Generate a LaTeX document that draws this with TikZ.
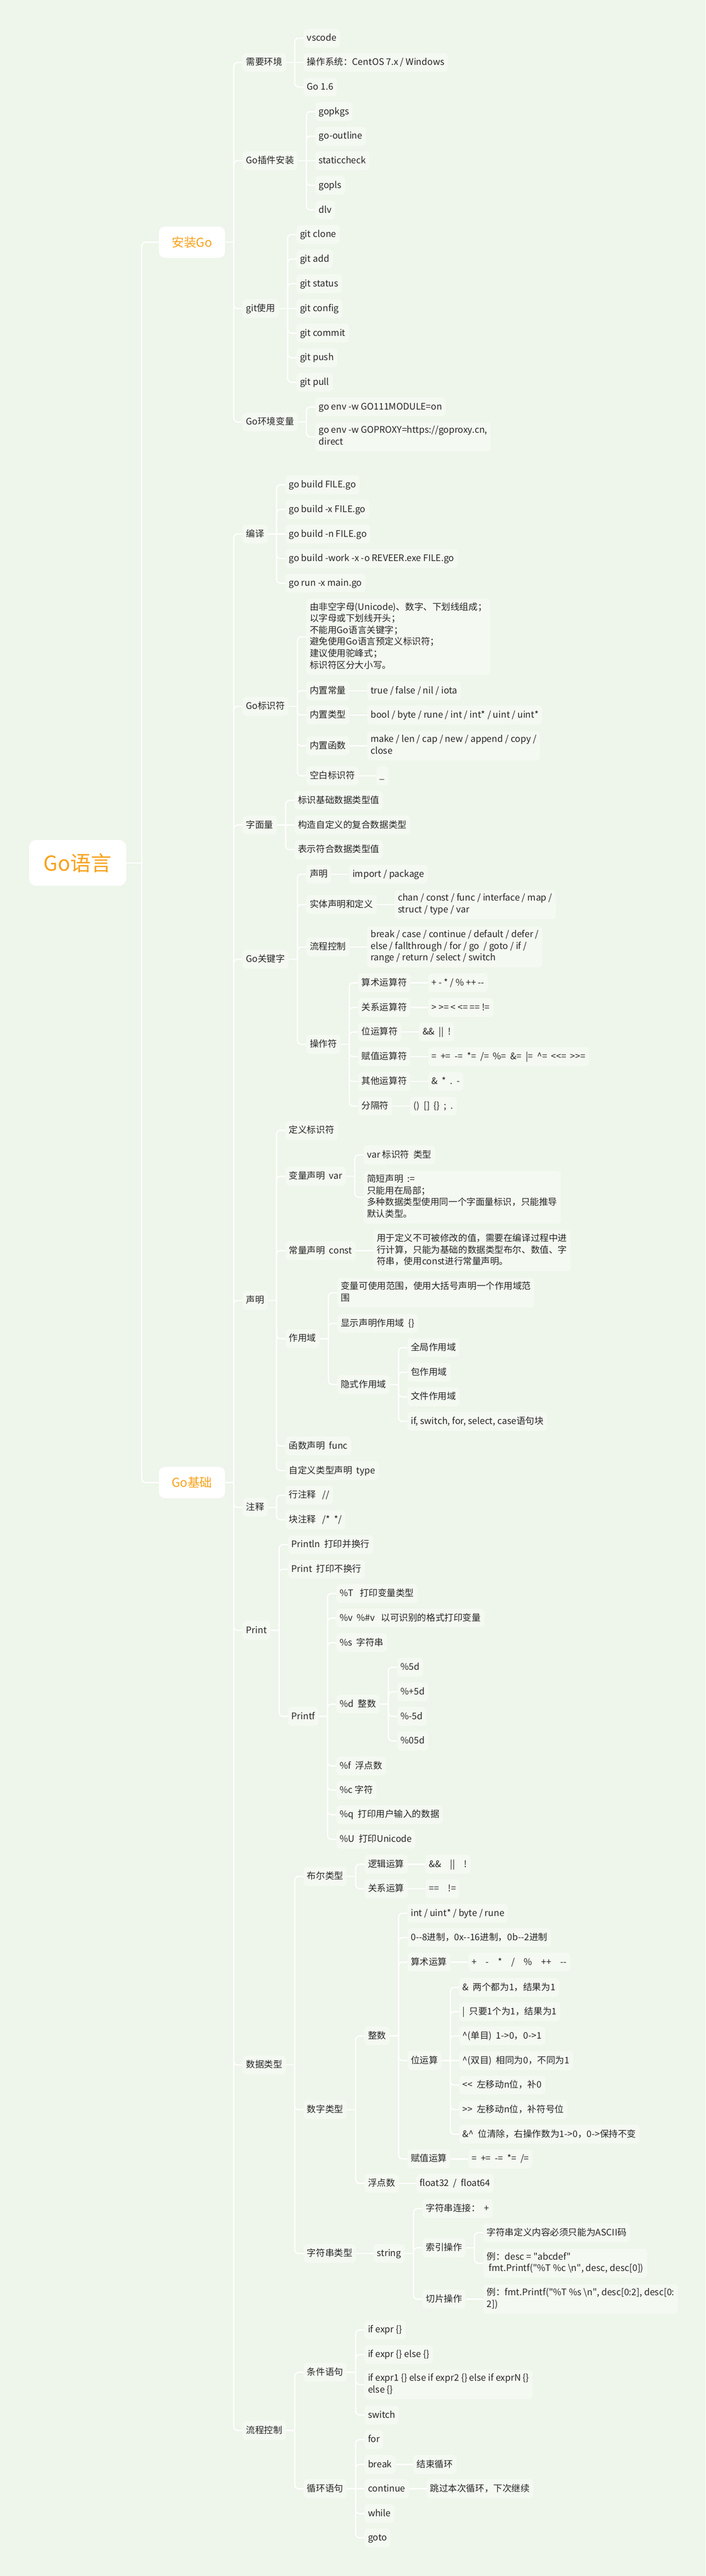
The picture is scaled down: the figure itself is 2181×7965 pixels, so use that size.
\documentclass[tikz,border=0pt]{standalone}
\usepackage{fontspec}
\setmainfont{Noto Sans CJK SC}
\usetikzlibrary{positioning}

\definecolor{bgcol}{HTML}{EEF5EA}
\definecolor{boxcol}{HTML}{F4F9F1}
\definecolor{orangecol}{HTML}{F7A21B}
\definecolor{inkcol}{HTML}{262626}

\newcommand{\rowstrut}{\rule[-9pt]{0pt}{36pt}}
\newcommand{\dashdash}{-\kern0pt-}
\newcommand{\ltlt}{<\kern0pt<}
\newcommand{\gtgt}{>\kern0pt>}
\newcommand{\dq}{\XeTeXglyph\XeTeXcharglyph"22\relax}

\begin{document}
\begin{tikzpicture}[x=1pt,y=-1pt,
    box/.style={fill=boxcol,rounded corners=12pt,inner xsep=11pt,inner ysep=11.5pt,
      align=left,text=inkcol,font=\fontsize{28}{36}\selectfont,
      execute at begin node=\rowstrut,execute at end node=\rowstrut},
    kid/.style={box,anchor=west,xshift=27pt},
    topbox/.style={fill=white,rounded corners=18pt,text=orangecol,
      font=\fontsize{38}{46}\selectfont,minimum width=204pt,minimum height=97pt,
      anchor=west,xshift=53pt},
    rootbox/.style={fill=white,rounded corners=22pt,text=orangecol,
      font=\fontsize{64}{72}\selectfont,minimum width=300pt,minimum height=142pt},
    conn/.style={draw=white,line width=4pt,rounded corners=12pt}]
  \useasboundingbox (0,0) rectangle (2181,7965);
  \fill[bgcol] (0,0) rectangle (2181,7965);

  \node[rootbox] (golang) at (240,2668) {Go语言};
  \coordinate (golangt) at ([xshift=48pt]golang.east);
  \node[topbox] (install) at (golangt |- 0,749) {安装Go};
  \node[topbox] (basics) at (golangt |- 0,4584) {Go基础};

  % 安装Go
  \coordinate (installt) at ([xshift=27pt]install.east);
  \node[kid] (env) at (installt |- 0,193) {需要环境};
  \node[kid] (plugin) at (installt |- 0,497) {Go插件安装};
  \node[kid] (git) at (installt |- 0,954) {git使用};
  \node[kid] (goenv) at (installt |- 0,1305) {Go环境变量};

  \coordinate (envt) at ([xshift=27pt]env.east);
  \node[kid] (vscode) at (envt |- 0,118) {vscode};
  \node[kid] (os) at (envt |- 0,193) {操作系统：CentOS 7.x / Windows};
  \node[kid] (go16) at (envt |- 0,269) {Go 1.6};

  \coordinate (plugint) at ([xshift=27pt]plugin.east);
  \node[kid] (gopkgs) at (plugint |- 0,345) {gopkgs};
  \node[kid] (outline) at (plugint |- 0,421) {go-outline};
  \node[kid] (static) at (plugint |- 0,497) {staticcheck};
  \node[kid] (gopls) at (plugint |- 0,573) {gopls};
  \node[kid] (dlv) at (plugint |- 0,649) {dlv};

  \coordinate (gitt) at ([xshift=27pt]git.east);
  \node[kid] (clone) at (gitt |- 0,725) {git clone};
  \node[kid] (add) at (gitt |- 0,801) {git add};
  \node[kid] (status) at (gitt |- 0,877) {git status};
  \node[kid] (config) at (gitt |- 0,954) {git config};
  \node[kid] (commit) at (gitt |- 0,1030) {git commit};
  \node[kid] (push) at (gitt |- 0,1106) {git push};
  \node[kid] (pull) at (gitt |- 0,1182) {git pull};

  \coordinate (goenvt) at ([xshift=27pt]goenv.east);
  \node[kid] (mod) at (goenvt |- 0,1258) {go env -w GO111MODULE=on};
  \node[kid] (proxy) at (goenvt |- 0,1351) {go env -w GOPROXY=https://goproxy.cn,\\direct};

  % Go基础
  \coordinate (basicst) at ([xshift=27pt]basics.east);
  \node[kid] (build) at (basicst |- 0,1651) {编译};
  \node[kid] (ident) at (basicst |- 0,2184) {Go标识符};
  \node[kid] (literal) at (basicst |- 0,2551) {字面量};
  \node[kid] (keyword) at (basicst |- 0,2966) {Go关键字};
  \node[kid] (declare) at (basicst |- 0,4021) {声明};
  \node[kid] (comment) at (basicst |- 0,4661) {注释};
  \node[kid] (print) at (basicst |- 0,5041) {Print};
  \node[kid] (dtype) at (basicst |- 0,6385) {数据类型};
  \node[kid] (flow) at (basicst |- 0,7515) {流程控制};

  \coordinate (buildt) at ([xshift=27pt]build.east);
  \node[kid] (b1) at (buildt |- 0,1499) {go build FILE.go};
  \node[kid] (b2) at (buildt |- 0,1575) {go build -x FILE.go};
  \node[kid] (b3) at (buildt |- 0,1651) {go build -n FILE.go};
  \node[kid] (b4) at (buildt |- 0,1727) {go build -work -x -o REVEER.exe FILE.go};
  \node[kid] (b5) at (buildt |- 0,1803) {go run -x main.go};

  \coordinate (identt) at ([xshift=27pt]ident.east);
  \node[kid] (rule) at (identt |- 0,1969) {由非空字母(Unicode)、数字、下划线组成；\\以字母或下划线开头；\\不能用Go语言关键字；\\避免使用Go语言预定义标识符；\\建议使用驼峰式；\\标识符区分大小写。};
  \node[kid] (bconst) at (identt |- 0,2136) {内置常量};
  \node[box,right=54pt of bconst] (bconstv) {true / false / nil / iota};
  \node[kid] (btype) at (identt |- 0,2211) {内置类型};
  \node[box,right=54pt of btype] (btypev) {bool / byte / rune / int / int* / uint / uint*};
  \node[kid] (bfunc) at (identt |- 0,2306) {内置函数};
  \node[box,right=54pt of bfunc] (bfuncv) {make / len / cap / new / append / copy /\\close};
  \node[kid] (blank) at (identt |- 0,2399) {空白标识符};
  \node[box,right=54pt of blank] (blankv) {\_};

  \coordinate (literalt) at ([xshift=27pt]literal.east);
  \node[kid] (lit1) at (literalt |- 0,2475) {标识基础数据类型值};
  \node[kid] (lit2) at (literalt |- 0,2551) {构造自定义的复合数据类型};
  \node[kid] (lit3) at (literalt |- 0,2627) {表示符合数据类型值};

  \coordinate (keywordt) at ([xshift=27pt]keyword.east);
  \node[kid] (kdecl) at (keywordt |- 0,2703) {声明};
  \node[box,right=54pt of kdecl] (kdeclv) {import / package};
  \node[kid] (kentity) at (keywordt |- 0,2797) {实体声明和定义};
  \node[box,right=54pt of kentity] (kentityv) {chan / const / func / interface / map /\\struct / type / var};
  \node[kid] (kflow) at (keywordt |- 0,2928) {流程控制};
  \node[box,right=54pt of kflow] (kflowv) {break / case / continue / default / defer /\\else / fallthrough / for / go~~/ goto / if /\\range / return / select / switch};
  \node[kid] (koper) at (keywordt |- 0,3229) {操作符};

  \coordinate (kopert) at ([xshift=27pt]koper.east);
  \node[kid] (arith) at (kopert |- 0,3039) {算术运算符};
  \node[box,right=54pt of arith] (arithv) {+ - * / \% ++ \dashdash};
  \node[kid] (rel) at (kopert |- 0,3115) {关系运算符};
  \node[box,right=54pt of rel] (relv) {> >= < <= == !=};
  \node[kid] (bitop) at (kopert |- 0,3191) {位运算符};
  \node[box,right=54pt of bitop] (bitopv) {\&\&~~||~~!};
  \node[kid] (assign) at (kopert |- 0,3267) {赋值运算符};
  \node[box,right=54pt of assign] (assignv) {=~~+=~~-=~~*=~~/=~~\%=~~\&=~~|=~~\textasciicircum=~~\ltlt=~~\gtgt=};
  \node[kid] (other) at (kopert |- 0,3344) {其他运算符};
  \node[box,right=54pt of other] (otherv) {\&~~*~~.~~-};
  \node[kid] (sep) at (kopert |- 0,3420) {分隔符};
  \node[box,right=54pt of sep] (sepv) {()~~[]~~\{\}~~;~~.};

  \coordinate (declaret) at ([xshift=27pt]declare.east);
  \node[kid] (defid) at (declaret |- 0,3495) {定义标识符};
  \node[kid] (var) at (declaret |- 0,3637) {变量声明~~var};
  \node[kid] (const) at (declaret |- 0,3867) {常量声明~~const};
  \node[box,right=54pt of const] (constv) {用于定义不可被修改的值，需要在编译过程中进\\行计算，只能为基础的数据类型布尔、数值、字\\符串，使用const进行常量声明。};
  \node[kid] (scope) at (declaret |- 0,4139) {作用域};
  \node[kid] (func) at (declaret |- 0,4471) {函数声明~~func};
  \node[kid] (type) at (declaret |- 0,4547) {自定义类型声明~~type};

  \coordinate (vart) at ([xshift=27pt]var.east);
  \node[kid] (var1) at (vart |- 0,3571) {var 标识符~~类型};
  \node[kid] (var2) at (vart |- 0,3702) {简短声明~~:=\\只能用在局部；\\多种数据类型使用同一个字面量标识，只能推导\\默认类型。};

  \coordinate (scopet) at ([xshift=27pt]scope.east);
  \node[kid] (sc1) at (scopet |- 0,3997) {变量可使用范围，使用大括号声明一个作用域范\\围};
  \node[kid] (sc2) at (scopet |- 0,4092) {显示声明作用域~~\{\}};
  \node[kid] (implicit) at (scopet |- 0,4281) {隐式作用域};

  \coordinate (implicitt) at ([xshift=27pt]implicit.east);
  \node[kid] (global) at (implicitt |- 0,4167) {全局作用域};
  \node[kid] (pkgsc) at (implicitt |- 0,4243) {包作用域};
  \node[kid] (filesc) at (implicitt |- 0,4319) {文件作用域};
  \node[kid] (blocksc) at (implicitt |- 0,4395) {if, switch, for, select, case语句块};

  \coordinate (commentt) at ([xshift=27pt]comment.east);
  \node[kid] (cline) at (commentt |- 0,4623) {行注释~~~//};
  \node[kid] (cblock) at (commentt |- 0,4699) {块注释~~~/*~~*/};

  \coordinate (printt) at ([xshift=27pt]print.east);
  \node[kid] (println) at (printt |- 0,4776) {Println~~打印并换行};
  \node[kid] (printnl) at (printt |- 0,4852) {Print~~打印不换行};
  \node[kid] (printf) at (printt |- 0,5307) {Printf};

  \coordinate (printft) at ([xshift=27pt]printf.east);
  \node[kid] (pT) at (printft |- 0,4927) {\%T~~~打印变量类型};
  \node[kid] (pv) at (printft |- 0,5003) {\%v~~\%\#v~~~以可识别的格式打印变量};
  \node[kid] (ps) at (printft |- 0,5079) {\%s~~字符串};
  \node[kid] (pd) at (printft |- 0,5269) {\%d~~整数};
  \node[kid] (pf) at (printft |- 0,5460) {\%f~~浮点数};
  \node[kid] (pc) at (printft |- 0,5535) {\%c 字符};
  \node[kid] (pq) at (printft |- 0,5611) {\%q~~打印用户输入的数据};
  \node[kid] (pU) at (printft |- 0,5687) {\%U~~打印Unicode};

  \coordinate (pdt) at ([xshift=27pt]pd.east);
  \node[kid] (d1) at (pdt |- 0,5155) {\%5d};
  \node[kid] (d2) at (pdt |- 0,5231) {\%+5d};
  \node[kid] (d3) at (pdt |- 0,5307) {\%-5d};
  \node[kid] (d4) at (pdt |- 0,5383) {\%05d};

  \coordinate (dtypet) at ([xshift=27pt]dtype.east);
  \node[kid] (bool) at (dtypet |- 0,5802) {布尔类型};
  \node[kid] (num) at (dtypet |- 0,6523) {数字类型};
  \node[kid] (str) at (dtypet |- 0,6968) {字符串类型};

  \coordinate (boolt) at ([xshift=27pt]bool.east);
  \node[kid] (logic) at (boolt |- 0,5764) {逻辑运算};
  \node[box,right=54pt of logic] (logicv) {\&\&\quad||\quad!};
  \node[kid] (relop) at (boolt |- 0,5840) {关系运算};
  \node[box,right=54pt of relop] (relopv) {==\quad!=};

  \coordinate (numt) at ([xshift=27pt]num.east);
  \node[kid] (int) at (numt |- 0,6295) {整数};
  \node[kid] (float) at (numt |- 0,6751) {浮点数};
  \node[box,right=54pt of float] (floatv) {float32~~/~~float64};

  \coordinate (intt) at ([xshift=27pt]int.east);
  \node[kid] (i1) at (intt |- 0,5916) {int / uint* / byte / rune};
  \node[kid] (i2) at (intt |- 0,5991) {0\dashdash8进制，0x\dashdash16进制，0b\dashdash2进制};
  \node[kid] (iarith) at (intt |- 0,6067) {算术运算};
  \node[box,right=54pt of iarith] (iarithv) {+\quad-\quad*\quad/\quad\%\quad++\quad\dashdash};
  \node[kid] (ibit) at (intt |- 0,6371) {位运算};
  \node[kid] (iassign) at (intt |- 0,6675) {赋值运算};
  \node[box,right=54pt of iassign] (iassignv) {=~~+=~~-=~~*=~~/=};

  \coordinate (ibitt) at ([xshift=27pt]ibit.east);
  \node[kid] (bit1) at (ibitt |- 0,6145) {\&~~两个都为1，结果为1};
  \node[kid] (bit2) at (ibitt |- 0,6220) {|~~只要1个为1，结果为1};
  \node[kid] (bit3) at (ibitt |- 0,6295) {\textasciicircum(单目)~~1->0，0->1};
  \node[kid] (bit4) at (ibitt |- 0,6371) {\textasciicircum(双目)~~相同为0，不同为1};
  \node[kid] (bit5) at (ibitt |- 0,6447) {\ltlt~~左移动n位，补0};
  \node[kid] (bit6) at (ibitt |- 0,6523) {\gtgt~~左移动n位，补符号位};
  \node[kid] (bit7) at (ibitt |- 0,6599) {\&\textasciicircum~~位清除，右操作数为1->0，0->保持不变};

  \node[box,right=54pt of str] (string) {string};
  \coordinate (stringt) at ([xshift=27pt]string.east);
  \node[kid] (concat) at (stringt |- 0,6829) {字符串连接：~~+};
  \node[kid] (index) at (stringt |- 0,6950) {索引操作};
  \node[kid] (slice) at (stringt |- 0,7109) {切片操作};
  \node[box,right=54pt of slice] (slicev) {例：fmt.Printf(\dq\%T \%s \textbackslash n\dq, desc[0:2], desc[0:\\2])};

  \coordinate (indext) at ([xshift=27pt]index.east);
  \node[kid] (idx1) at (indext |- 0,6903) {字符串定义内容必须只能为ASCII码};
  \node[kid] (idx2) at (indext |- 0,6998) {例：desc = \dq abcdef\dq\\~fmt.Printf(\dq\%T \%c \textbackslash n\dq, desc, desc[0])};

  \coordinate (flowt) at ([xshift=27pt]flow.east);
  \node[kid] (cond) at (flowt |- 0,7335) {条件语句};
  \node[kid] (loop) at (flowt |- 0,7695) {循环语句};

  \coordinate (condt) at ([xshift=27pt]cond.east);
  \node[kid] (if1) at (condt |- 0,7204) {if expr \{\}};
  \node[kid] (if2) at (condt |- 0,7280) {if expr \{\} else \{\}};
  \node[kid] (if3) at (condt |- 0,7373) {if expr1 \{\} else if expr2 \{\} else if exprN \{\}\\else \{\}};
  \node[kid] (sw) at (condt |- 0,7467) {switch};

  \coordinate (loopt) at ([xshift=27pt]loop.east);
  \node[kid] (for) at (loopt |- 0,7543) {for};
  \node[kid] (brk) at (loopt |- 0,7620) {break};
  \node[box,right=54pt of brk] (brkv) {结束循环};
  \node[kid] (cont) at (loopt |- 0,7695) {continue};
  \node[box,right=54pt of cont] (contv) {跳过本次循环，下次继续};
  \node[kid] (while) at (loopt |- 0,7772) {while};
  \node[kid] (goto) at (loopt |- 0,7847) {goto};

  % connectors
  \draw[conn] (golang.east) -- (golangt);
  \foreach \kid in {install,basics} \draw[conn] (golangt) |- (\kid.west);
  \draw[conn] (install.east) -- (installt);
  \foreach \kid in {env,plugin,git,goenv} \draw[conn] (installt) |- (\kid.west);
  \draw[conn] (env.east) -- (os.west);
  \foreach \kid in {vscode,go16} \draw[conn] (envt) |- (\kid.west);
  \draw[conn] (plugin.east) -- (static.west);
  \foreach \kid in {gopkgs,outline,gopls,dlv} \draw[conn] (plugint) |- (\kid.west);
  \draw[conn] (git.east) -- (config.west);
  \foreach \kid in {clone,add,status,commit,push,pull} \draw[conn] (gitt) |- (\kid.west);
  \draw[conn] (goenv.east) -- (goenvt);
  \foreach \kid in {mod,proxy} \draw[conn] (goenvt) |- (\kid.west);

  \draw[conn] (basics.east) -- (basicst);
  \foreach \kid in {build,ident,literal,keyword,declare,comment,print,dtype,flow}
    \draw[conn] (basicst) |- (\kid.west);
  \draw[conn] (build.east) -- (b3.west);
  \foreach \kid in {b1,b2,b4,b5} \draw[conn] (buildt) |- (\kid.west);
  \draw[conn] (ident.east) -- (identt);
  \foreach \kid in {rule,bconst,btype,bfunc,blank} \draw[conn] (identt) |- (\kid.west);
  \draw[conn] (literal.east) -- (lit2.west);
  \foreach \kid in {lit1,lit3} \draw[conn] (literalt) |- (\kid.west);
  \draw[conn] (keyword.east) -- (keywordt);
  \foreach \kid in {kdecl,kentity,kflow,koper} \draw[conn] (keywordt) |- (\kid.west);
  \draw[conn] (koper.east) -- (kopert);
  \foreach \kid in {arith,rel,bitop,assign,other,sep} \draw[conn] (kopert) |- (\kid.west);
  \draw[conn] (declare.east) -- (declaret);
  \foreach \kid in {defid,var,const,scope,func,type} \draw[conn] (declaret) |- (\kid.west);
  \draw[conn] (var.east) -- (vart);
  \foreach \kid in {var1,var2} \draw[conn] (vart) |- (\kid.west);
  \draw[conn] (scope.east) -- (scopet);
  \foreach \kid in {sc1,sc2,implicit} \draw[conn] (scopet) |- (\kid.west);
  \draw[conn] (implicit.east) -- (implicitt);
  \foreach \kid in {global,pkgsc,filesc,blocksc} \draw[conn] (implicitt) |- (\kid.west);
  \draw[conn] (comment.east) -- (commentt);
  \foreach \kid in {cline,cblock} \draw[conn] (commentt) |- (\kid.west);
  \draw[conn] (print.east) -- (printt);
  \foreach \kid in {println,printnl,printf} \draw[conn] (printt) |- (\kid.west);
  \draw[conn] (printf.east) -- (printft);
  \foreach \kid in {pT,pv,ps,pd,pf,pc,pq,pU} \draw[conn] (printft) |- (\kid.west);
  \draw[conn] (pd.east) -- (pdt);
  \foreach \kid in {d1,d2,d3,d4} \draw[conn] (pdt) |- (\kid.west);
  \draw[conn] (dtype.east) -- (dtypet);
  \foreach \kid in {bool,num,str} \draw[conn] (dtypet) |- (\kid.west);
  \draw[conn] (bool.east) -- (boolt);
  \foreach \kid in {logic,relop} \draw[conn] (boolt) |- (\kid.west);
  \draw[conn] (num.east) -- (numt);
  \foreach \kid in {int,float} \draw[conn] (numt) |- (\kid.west);
  \draw[conn] (int.east) -- (intt);
  \foreach \kid in {i1,i2,iarith,ibit,iassign} \draw[conn] (intt) |- (\kid.west);
  \draw[conn] (ibit.east) -- (bit4.west);
  \foreach \kid in {bit1,bit2,bit3,bit5,bit6,bit7} \draw[conn] (ibitt) |- (\kid.west);
  \draw[conn] (string.east) -- (stringt);
  \foreach \kid in {concat,index,slice} \draw[conn] (stringt) |- (\kid.west);
  \draw[conn] (index.east) -- (indext);
  \foreach \kid in {idx1,idx2} \draw[conn] (indext) |- (\kid.west);
  \draw[conn] (flow.east) -- (flowt);
  \foreach \kid in {cond,loop} \draw[conn] (flowt) |- (\kid.west);
  \draw[conn] (cond.east) -- (condt);
  \foreach \kid in {if1,if2,if3,sw} \draw[conn] (condt) |- (\kid.west);
  \draw[conn] (loop.east) -- (cont.west);
  \foreach \kid in {for,brk,while,goto} \draw[conn] (loopt) |- (\kid.west);

  % leaf values
  \foreach \a/\b in {bconst/bconstv,btype/btypev,bfunc/bfuncv,blank/blankv,
      kdecl/kdeclv,kentity/kentityv,kflow/kflowv,arith/arithv,rel/relv,
      bitop/bitopv,assign/assignv,other/otherv,sep/sepv,const/constv,
      logic/logicv,relop/relopv,float/floatv,iarith/iarithv,iassign/iassignv,
      str/string,slice/slicev,brk/brkv,cont/contv}
    \draw[conn] (\a.east) -- (\b.west);
\end{tikzpicture}
\end{document}
